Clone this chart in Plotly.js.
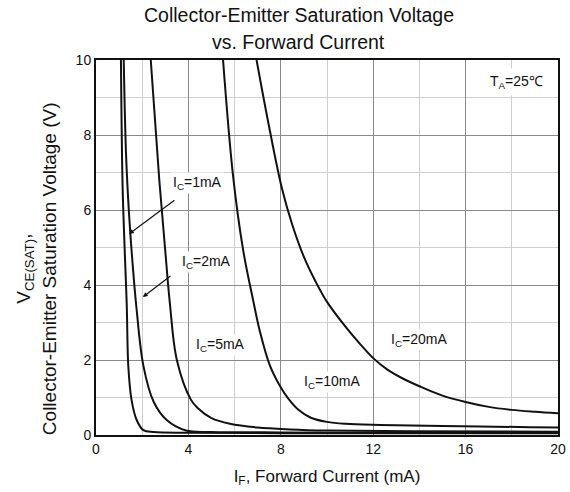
<!DOCTYPE html>
<html>
<head>
<meta charset="utf-8">
<script src="https://cdn.plot.ly/plotly-3.0.1.min.js"></script>
<style>html,body{margin:0;padding:0;background:#fff;}</style>
</head>
<body>
<div id="chart" style="width:570px;height:492px;"></div>
<script>
// Forward current I_F (mA) and V_CE(SAT) (V) for each collector current curve
const ic1_x = [1.08, 1.15, 1.25, 1.33, 1.40, 1.54, 1.76, 2.05, 2.50, 4.0, 8.0, 12.0, 16.0, 20.0];
const ic1_y = [10.0, 6.67, 4.80, 3.50, 1.82, 0.93, 0.40, 0.13, 0.08, 0.06, 0.05, 0.05, 0.05, 0.05];

const ic2_x = [1.20, 1.30, 1.42, 1.58, 1.75, 2.05, 2.50, 3.06, 3.90, 5.0, 8.0, 12.0, 16.0, 20.0];
const ic2_y = [10.0, 7.50, 6.00, 4.60, 3.40, 1.85, 0.88, 0.40, 0.12, 0.08, 0.07, 0.06, 0.06, 0.06];

const ic5_x = [2.37, 2.74, 3.00, 3.20, 3.50, 4.10, 4.40, 5.00, 5.80, 7.0, 8.4, 10.0, 14.0, 20.0];
const ic5_y = [10.0, 6.80, 4.90, 3.50, 2.00, 0.95, 0.72, 0.45, 0.30, 0.20, 0.15, 0.12, 0.10, 0.09];

const ic10_x = [5.50, 5.93, 6.37, 6.80, 7.10, 7.53, 7.97, 8.35, 8.75, 9.30, 10.0, 10.8, 12.3, 15.0, 18.8, 20.0];
const ic10_y = [10.0, 6.93, 4.93, 3.60, 2.75, 1.85, 1.30, 0.95, 0.68, 0.46, 0.35, 0.30, 0.27, 0.24, 0.21, 0.20];

const ic20_x = [6.95, 7.50, 8.04, 8.50, 9.00, 9.50, 10.0, 10.85, 11.4, 12.0, 12.6, 13.3, 14.0, 15.0, 16.0, 17.0, 18.0, 19.0, 20.0];
const ic20_y = [10.0, 8.20, 6.60, 5.60, 4.75, 4.10, 3.55, 2.85, 2.45, 2.05, 1.75, 1.50, 1.30, 1.05, 0.88, 0.75, 0.67, 0.62, 0.58];

const seriesNames = ['I_C=1mA', 'I_C=2mA', 'I_C=5mA', 'I_C=10mA', 'I_C=20mA'];
const xTickVals = [0, 4, 8, 12, 16, 20];
const yTickVals = [0, 2, 4, 6, 8, 10];

const curveSets = [[ic1_x, ic1_y], [ic2_x, ic2_y], [ic5_x, ic5_y], [ic10_x, ic10_y], [ic20_x, ic20_y]];
const traces = curveSets.map((c, i) => ({
  x: c[0], y: c[1], name: seriesNames[i], type: 'scatter', mode: 'lines',
  line: {color: '#111', width: 2, shape: 'spline', smoothing: 1.0},
  hoverinfo: 'skip', showlegend: false
}));

const FONT = 'Liberation Sans, Arial, sans-serif';
const lbl = (text, x, y, extra) => Object.assign({
  text: text, x: x, y: y, xref: 'x', yref: 'y', showarrow: false,
  font: {family: FONT, size: 14, color: '#111'}, bgcolor: '#fff', borderpad: 1
}, extra || {});
const paperText = (text, x, y, size, angle) => ({
  text: text, x: x, y: y, xref: 'paper', yref: 'paper', xanchor: 'center', yanchor: 'middle',
  showarrow: false, textangle: angle || 0, font: {family: FONT, size: size, color: '#111'}
});

const layout = {
  width: 570, height: 492,
  margin: {l: 96, r: 12, t: 60, b: 57},
  paper_bgcolor: '#fff', plot_bgcolor: '#fff',
  font: {family: FONT, color: '#111'},
  xaxis: {
    range: [0, 20], tickvals: xTickVals, ticks: '',
    showgrid: true, gridcolor: '#8a8a8a', gridwidth: 1,
    minor: {dtick: 2, tick0: 0, showgrid: true, gridcolor: '#cfcfcf', gridwidth: 1, ticks: ''},
    showline: true, linecolor: '#111', linewidth: 2, mirror: true, zeroline: false,
    tickfont: {family: FONT, size: 14, color: '#111'},
    title: {text: 'I<sub>F</sub>, Forward Current (mA)', font: {family: FONT, size: 17, color: '#111'}, standoff: 14}
  },
  yaxis: {
    range: [0, 10], tickvals: yTickVals, ticks: '',
    showgrid: true, gridcolor: '#8a8a8a', gridwidth: 1,
    minor: {dtick: 1, tick0: 0, showgrid: true, gridcolor: '#cfcfcf', gridwidth: 1, ticks: ''},
    showline: true, linecolor: '#111', linewidth: 2, mirror: true, zeroline: false,
    tickfont: {family: FONT, size: 14, color: '#111'}
  },
  annotations: [
    paperText('Collector-Emitter Saturation Voltage', 0.439, 1.12, 19.5),
    paperText('vs. Forward Current', 0.439, 1.048, 19.5),
    paperText('V<sub>CE(SAT)</sub>,', -0.154, 0.443, 19, -90),
    paperText('Collector-Emitter Saturation Voltage (V)', -0.099, 0.443, 19, -90),
    lbl('I<sub>C</sub>=1mA', 4.4, 6.72),
    lbl('I<sub>C</sub>=2mA', 4.8, 4.61),
    lbl('I<sub>C</sub>=5mA', 5.4, 2.4),
    lbl('I<sub>C</sub>=10mA', 10.2, 1.41),
    lbl('I<sub>C</sub>=20mA', 14.0, 2.53),
    lbl('T<sub>A</sub>=25\u2103', 18.2, 9.41, {font: {family: FONT, size: 14, color: '#111'}, borderpad: 4}),
    {x: 1.43, y: 5.36, ax: 3.46, ay: 6.29, axref: 'x', ayref: 'y', xref: 'x', yref: 'y', text: '',
     showarrow: true, arrowhead: 2, arrowsize: 0.8, arrowwidth: 1.2, arrowcolor: '#111'},
    {x: 2.03, y: 3.68, ax: 3.29, ay: 4.27, axref: 'x', ayref: 'y', xref: 'x', yref: 'y', text: '',
     showarrow: true, arrowhead: 2, arrowsize: 0.8, arrowwidth: 1.2, arrowcolor: '#111'}
  ]
};

Plotly.newPlot('chart', traces, layout, {staticPlot: true, displayModeBar: false});
</script>
</body>
</html>
